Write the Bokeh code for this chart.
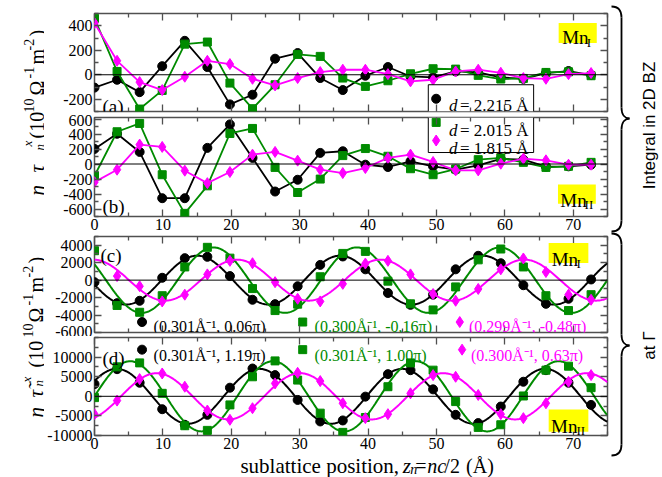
import numpy as np
from bokeh.plotting import figure
from bokeh.layouts import row, column
from bokeh.models import (Range1d, LinearAxis, FixedTicker, Span, Label, BoxAnnotation,
                          CustomJSTickFormatter)
from bokeh.core.properties import value
from bokeh.embed import file_html
from bokeh.resources import INLINE

# ---------------- data ----------------
z = [0.0, 3.3, 6.6, 9.9, 13.2, 16.5, 19.8, 23.1, 26.4, 29.7, 33.0, 36.3,
     39.6, 42.9, 46.2, 49.5, 52.8, 56.1, 59.4, 62.7, 66.0, 69.3, 72.6]

a_black = [-105, -41, -142, 70, 277, 63, -242, -163, 131, 177, -27, -125,
           -8, 63, -14, -22, 27, 19, -22, -33, 14, 30, -3]
a_green = [460, 27, -280, -128, 250, 267, -68, -277, -82, 166, 150, -27,
           -95, -49, 8, 49, 46, -5, -35, -30, 19, 24, -8]
a_magenta = [422, 114, -60, -125, -16, 114, 87, -33, -87, -27, 22, 41,
             41, 5, -54, -41, 27, 41, 16, -27, -33, 5, 14]

b_black = [201, 403, 161, -456, -456, 215, 528, 81, -367, -210, 148, 170,
           -9, -40, 36, -31, -76, -18, 67, 58, -36, -31, -9]
b_green = [-157, 430, 541, -143, -658, -291, 407, 474, -45, -380, -201, 112,
           206, 103, -63, -143, -67, 58, 81, 22, -45, -31, 22]
b_magenta = [-242, -76, 259, 228, -89, -255, -107, 125, 161, 45, -76, -121,
             -54, 81, 125, 27, -85, -85, 4, 72, 49, -9, -9]

c_black = [-233, -2636, -2364, 271, 2519, 2674, 465, -2248, -2752, -698, 1744, 2713,
           1240, -1473, -2829, -1667, 1240, 2791, 1938, -581, -2713, -2132, 78]
c_green = [3372, -2900, -3682, -1783, 1512, 3760, 2519, -969, -3488, -2752, 388, 3062,
           3295, -116, -2713, -3411, -775, 2326, 3566, 1512, -1783, -3488, -1667]
c_magenta = [np.nan, 465, -698, -2442, -1667, 659, 2209, 1938, -233, -2132, -2442, -426,
             1899, 2209, 659, -1589, -2364, -1008, 1240, 2481, 930, -1667, -2248]

d_black = [3123, 6921, 3460, -3292, -7258, -4726, 2194, 7090, 5402, -928, -6414, -6161,
           -84, 5655, 6668, 1772, -4726, -6836, -2616, 3714, 6668, 3460, -2194]
d_green = [-338, 7512, 8524, 760, -7512, -8693, -2194, 4980, 9031, 4136, -4304, -9200,
           -5402, 2448, 8524, 6668, -1350, -7934, -7258, 84, 6668, 7680, 2194]
d_magenta = [-4558, -1097, 4389, 5824, 2448, -3629, -5992, -3038, 3292, 5992, 3882, -1772,
             -5570, -4558, 760, 5402, 4980, 338, -4558, -5570, -1772, 3714, 5402]

# fitted sinusoids: (q [1/A], phase [pi], amplitude)
c_fit_q = [0.301, 0.300, 0.299]
c_fit_phase = [0.06, -0.16, -0.48]
c_fit_amp = [2800, 3750, 2350]
d_fit_q = [0.301, 0.301, 0.300]
d_fit_phase = [1.19, 1.00, 0.63]
d_fit_amp = [7000, 8950, 5900]

c_texts = ["(0.301Å⁻¹, 0.06π)", "(0.300Å⁻¹, -0,16π)", "(0.299Å⁻¹, -0.48π)"]
d_texts = ["(0.301Å⁻¹, 1.19π)", "(0.301Å⁻¹, 1.00π)", "(0.300Å⁻¹, 0.63π)"]
legend_texts = ["= 2.215 Å", "= 2.015 Å", "= 1.815 Å"]

x_major = [0, 10, 20, 30, 40, 50, 60, 70]
x_minor = [5, 15, 25, 35, 45, 55, 65, 75]

# ---------------- style ----------------
SERIF = "Liberation Serif"
SANS = "Liberation Sans"
BLACK, GREEN, MAGENTA = "#000000", "#008b00", "#ff00ff"
COLORS = [BLACK, GREEN, MAGENTA]
MARKERS = [("circle", 9), ("square", 8), ("diamond", 11)]
FRAME = "#505050"
PW = 566


def make_panel(height, b_top, b_bottom, yrange, y_major, y_minor, x_labels):
    p = figure(width=PW, height=height, x_range=Range1d(0, 75), y_range=Range1d(*yrange),
               output_backend="svg", toolbar_location=None, title_location=None,
               min_border_left=48, min_border_right=3,
               min_border_top=b_top, min_border_bottom=b_bottom)
    p.grid.visible = False
    p.outline_line_color = FRAME
    p.outline_line_width = 1.5
    p.background_fill_color = "white"
    p.border_fill_color = "white"
    p.add_layout(LinearAxis(), "above")
    p.add_layout(LinearAxis(), "right")
    bottom, left, top, right = p.below[0], p.left[0], p.above[0], p.right[0]
    for ax, tk in ((bottom, (x_major, x_minor)), (top, (x_major, x_minor)),
                   (left, (y_major, y_minor)), (right, (y_major, y_minor))):
        ax.ticker = FixedTicker(ticks=tk[0], minor_ticks=tk[1])
        ax.formatter = CustomJSTickFormatter(code="return tick.toFixed(0);")
        ax.axis_line_color = None
        ax.major_tick_in = 7
        ax.major_tick_out = 0
        ax.minor_tick_in = 4
        ax.minor_tick_out = 0
        ax.major_tick_line_color = FRAME
        ax.minor_tick_line_color = FRAME
        ax.major_tick_line_width = 1.3
        ax.minor_tick_line_width = 1.3
        ax.major_label_text_font = SERIF
        ax.major_label_text_font_size = "16px"
        ax.major_label_text_color = "black"
        ax.major_label_standoff = 2
    hidden = [top, right] + ([] if x_labels else [bottom])
    for ax in hidden:
        ax.major_label_text_font_size = "0px"
        ax.major_label_text_color = None
        ax.major_label_standoff = 0
    p.add_layout(Span(location=0, dimension="width", line_color="black", line_width=1))
    return p


def lab(p, x, y, text, size, color="black", style="normal", font=SERIF, align="left"):
    p.add_layout(Label(x=x, y=y, text=text, text_font=font, text_font_size=f"{size}px",
                       text_color=color, text_font_style=style, text_align=align,
                       text_baseline="alphabetic"))


def mn_box(p, l, r, t, b, xm, ym, xs, ys, sub):
    p.add_layout(BoxAnnotation(left=l, right=r, top=t, bottom=b, fill_color="#ffff00",
                               fill_alpha=1, line_color=None))
    lab(p, xm, ym, "Mn", 19)
    lab(p, xs, ys, sub, 13)


def data_series(p, series):
    for vals, col, (mk, sz) in zip(series, COLORS, MARKERS):
        p.line(z, vals, line_color=col, line_width=1.8)
        p.scatter(z, vals, marker=mk, size=sz, fill_color=col, line_color=col)


def fit_series(p, series, qs, phs, amps):
    zz = np.linspace(0, 75, 600)
    for vals, col, (mk, sz), q, ph, amp in zip(series, COLORS, MARKERS, qs, phs, amps):
        p.line(zz, -amp * np.sin(q * zz + ph * np.pi), line_color=col, line_width=2)
        p.scatter(z, vals, marker=mk, size=sz, fill_color=col, line_color=col)


def legend_part(p, l, r, t, b, top_edge, bottom_edge):
    p.quad(left=[l], right=[r], top=[t], bottom=[b], fill_color="white", line_color=None)
    xs0, ys0, xs1, ys1 = [l, r], [t, t], [l, r], [b, b]
    if top_edge:
        xs0.append(l); ys0.append(t); xs1.append(r); ys1.append(t)
    if bottom_edge:
        xs0.append(l); ys0.append(b); xs1.append(r); ys1.append(b)
    p.segment(x0=xs0, y0=ys0, x1=xs1, y1=ys1, line_color="black", line_width=1)


# ---------------- panel (a) ----------------
pa = make_panel(114, 13, 3, (-300, 500), [-200, 0, 200, 400],
                [-300, -100, 100, 300, 500], False)
data_series(pa, [a_black, a_green, a_magenta])
lab(pa, 1.16, -257, "(a)", 19)
mn_box(pa, 67.86, 73.43, 422, 259, 68.37, 302, 71.98, 265, "I")
legend_part(pa, 48.8, 64.2, -81.6, -300, True, False)
pa.scatter([49.95], [-196], marker="circle", size=9, color=BLACK)
lab(pa, 51.84, -253, "d", 17, style="italic")
lab(pa, 53.44, -253, legend_texts[0], 17)

# ---------------- panel (b) ----------------
pb = make_panel(121, 3, 19, (-700, 620), [-600, -400, -200, 0, 200, 400, 600],
                [-700, -500, -300, -100, 100, 300, 500], True)
data_series(pb, [b_black, b_green, b_magenta])
lab(pb, 1.16, -567, "(b)", 19)
mn_box(pb, 67.76, 73.29, -273, -531, 68.11, -487, 71.65, -540, "II")
legend_part(pb, 48.8, 64.2, 620, 153, False, True)
pb.scatter([49.95], [555], marker="square", size=8, color=GREEN)
pb.scatter([49.95], [313], marker="diamond", size=11, color=MAGENTA)
lab(pb, 51.84, 447, "d", 17, style="italic")
lab(pb, 53.44, 447, legend_texts[1], 17)
lab(pb, 51.84, 207, "d", 17, style="italic")
lab(pb, 53.44, 207, legend_texts[2], 17)

# ---------------- panel (c) ----------------
pc = make_panel(101, 1, 4, (-6000, 5000), [-6000, -4000, -2000, 0, 2000, 4000],
                [-5000, -3000, -1000, 1000, 3000, 5000], False)
fit_series(pc, [c_black, c_green, c_magenta], c_fit_q, c_fit_phase, c_fit_amp)
lab(pc, 0.87, 2876, "(c)", 19)
mn_box(pc, 66.4, 72.2, 4252, 1960, 66.84, 2361, 70.48, 1902, "I")
for (mk, sz), col, xm, xt, txt_ in zip(MARKERS, COLORS, [6.95, 30.44, 53.4],
                                       [8.64, 32.18, 54.75], c_texts):
    pc.scatter([xm], [-4800], marker=mk, size=sz, color=col)
    lab(pc, xt, -5318, txt_, 16, color=col)

# ---------------- panel (d) ----------------
pd_ = make_panel(119, 1, 20, (-10000, 15000), [-10000, -5000, 0, 5000, 10000],
                 [-7500, -2500, 2500, 7500, 12500, 15000], True)
fit_series(pd_, [d_black, d_green, d_magenta], d_fit_q, d_fit_phase, d_fit_amp)
lab(pd_, 1.16, 9643, "(d)", 19)
mn_box(pd_, 66.4, 72.2, -3367, -9056, 66.74, -7704, 70.45, -8597, "II")
for (mk, sz), col, xm, xt, txt_ in zip(MARKERS, COLORS, [6.95, 30.44, 53.74],
                                       [8.64, 32.18, 55.05], d_texts):
    pd_.scatter([xm], [11900], marker=mk, size=sz, color=col)
    lab(pd_, xt, 10408, txt_, 16, color=col)


# ---------------- side figures (pixel coordinates of the page) ----------------
def Y(v):
    return 477 - v


def side_fig(width, height, x0, y0):
    f = figure(width=width, height=height, x_range=Range1d(x0, x0 + width),
               y_range=Range1d(Y(y0 + height), Y(y0)),
               x_axis_type=None, y_axis_type=None, output_backend="svg",
               toolbar_location=None, title_location=None, min_border=0,
               outline_line_color=None)
    f.grid.visible = False
    return f


def txt(f, x, yb, text, size, style="normal", font=SERIF, angle=0.0, align="left"):
    f.text(x=[x], y=[Y(yb)], text=[text], angle=angle, text_font=value(font),
           text_font_size=value(f"{size}px"), text_font_style=style,
           text_align=align, text_baseline="alphabetic", text_color="black")


# x-axis title
T = side_fig(PW, 22, 44, 455)
txt(T, 205, 465, "sublattice position,", 21)
txt(T, 384, 465, "z", 21, "italic")
txt(T, 392.5, 469, "n", 14, "italic")
txt(T, 398, 465, "=", 20)
txt(T, 411, 465, "nc", 20, "italic")
txt(T, 430, 465, "/2", 20)
txt(T, 454, 465, "(Å)", 20)

# y-axis titles
L = side_fig(44, 477, 0, 0)
R90 = np.pi / 2


def ytitle(f, xb, pos, tau):
    eta, tt, nn, xx, p10, s10, om, sm1, m, sm2, cp = pos
    txt(f, xb, eta, "η", 21, "italic", angle=R90)
    txt(f, xb, tt, tau, 21, "italic", angle=R90)
    txt(f, xb + 3, nn, "n", 13, "italic", angle=R90)
    txt(f, xb - 9, xx, "x", 13, "italic", angle=R90)
    txt(f, xb, p10, "(10", 20, angle=R90)
    txt(f, xb - 8, s10, "10", 14, angle=R90)
    txt(f, xb, om, "Ω", 20, angle=R90)
    txt(f, xb - 8, sm1, "-1", 14, angle=R90)
    txt(f, xb, m, "m", 20, angle=R90)
    txt(f, xb - 8, sm2, "-2", 14, angle=R90)
    txt(f, xb, cp, ")", 20, angle=R90)


ytitle(L, 36, [195, 172, 150, 146, 138, 112, 95, 78, 64, 50, 36], "τ")
ytitle(L, 35, [417, 397, 386, 382, 367, 337, 322, 305, 292, 277, 263], "τ̃")

# braces and notes at the right
R = side_fig(52, 477, 610, 0)


def brace(f, x0, x1, x2, yt, ym, yb):
    bx0, by0, bx1, by1, c0x, c0y, c1x, c1y = [], [], [], [], [], [], [], []

    def bz(p0, c0, c1, p1):
        bx0.append(p0[0]); by0.append(Y(p0[1]))
        c0x.append(c0[0]); c0y.append(Y(c0[1]))
        c1x.append(c1[0]); c1y.append(Y(c1[1]))
        bx1.append(p1[0]); by1.append(Y(p1[1]))

    h = 11
    bz((x0, yt), (x1 - 3, yt), (x1, yt + 4), (x1, yt + h))
    bz((x1, ym - h), (x1, ym - 3), (x2 - 4, ym), (x2, ym))
    bz((x2, ym), (x2 - 4, ym), (x1, ym + 3), (x1, ym + h))
    bz((x1, yb - h), (x1, yb - 4), (x1 - 3, yb), (x0, yb))
    f.bezier(x0=bx0, y0=by0, x1=bx1, y1=by1, cx0=c0x, cy0=c0y, cx1=c1x, cy1=c1y,
             line_color="black", line_width=1.8)
    f.segment(x0=[x1, x1], y0=[Y(yt + h), Y(ym + h)], x1=[x1, x1], y1=[Y(ym - h), Y(yb - h)],
              line_color="black", line_width=1.8)


brace(R, 611, 621, 629, 6, 118, 231)
brace(R, 611, 621, 629, 233, 345, 455)
txt(R, 649, 125, "Integral in 2D BZ", 17, font=SANS, angle=R90, align="center")
txt(R, 649, 345, "at Γ", 17, font=SANS, angle=R90, align="center")

layout = row(L, column(pa, pb, pc, pd_, T, spacing=0), R, spacing=0)
open("out.html", "w").write(file_html(layout, INLINE))
